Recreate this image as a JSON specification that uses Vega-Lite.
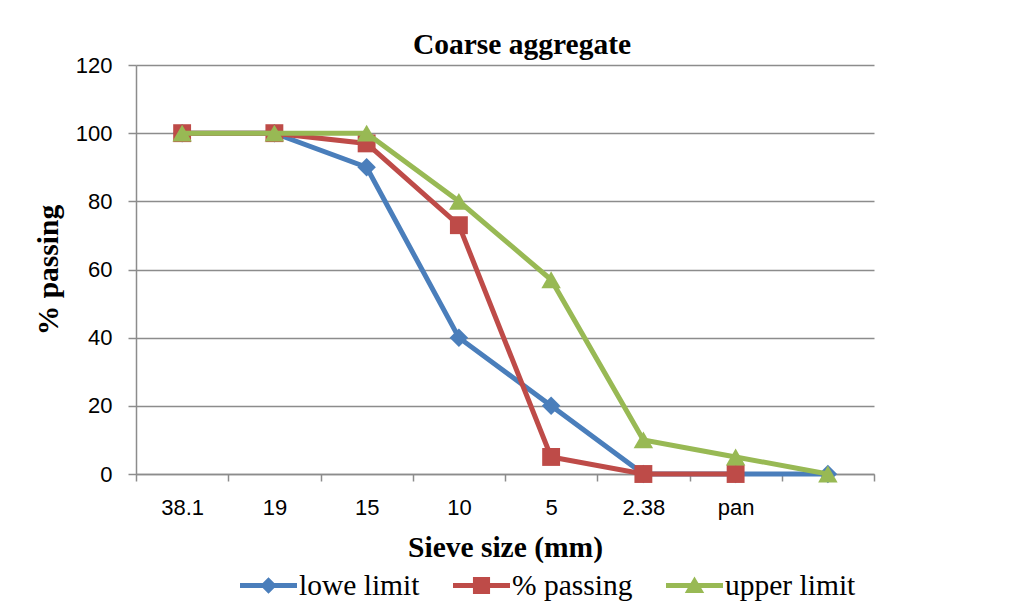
{
  "$schema": "https://vega.github.io/schema/vega-lite/v6.json",
  "width": 738,
  "height": 409,
  "autosize": "none",
  "padding": {"left": 136, "top": 65, "right": 149, "bottom": 135},
  "background": "white",
  "title": {
    "text": "Coarse aggregate",
    "font": "Liberation Serif",
    "fontWeight": "bold",
    "fontSize": 29.5,
    "color": "black",
    "anchor": "middle",
    "dx": 17,
    "offset": -6
  },
  "data": {
    "values": [
      {"sieve": "38.1", "series": "lowe limit", "pct": 100},
      {"sieve": "19", "series": "lowe limit", "pct": 100},
      {"sieve": "15", "series": "lowe limit", "pct": 90},
      {"sieve": "10", "series": "lowe limit", "pct": 40},
      {"sieve": "5", "series": "lowe limit", "pct": 20},
      {"sieve": "2.38", "series": "lowe limit", "pct": 0},
      {"sieve": "pan", "series": "lowe limit", "pct": 0},
      {"sieve": " ", "series": "lowe limit", "pct": 0},
      {"sieve": "38.1", "series": "% passing", "pct": 100},
      {"sieve": "19", "series": "% passing", "pct": 100},
      {"sieve": "15", "series": "% passing", "pct": 97},
      {"sieve": "10", "series": "% passing", "pct": 73},
      {"sieve": "5", "series": "% passing", "pct": 5},
      {"sieve": "2.38", "series": "% passing", "pct": 0},
      {"sieve": "pan", "series": "% passing", "pct": 0},
      {"sieve": "38.1", "series": "upper limit", "pct": 100},
      {"sieve": "19", "series": "upper limit", "pct": 100},
      {"sieve": "15", "series": "upper limit", "pct": 100},
      {"sieve": "10", "series": "upper limit", "pct": 80},
      {"sieve": "5", "series": "upper limit", "pct": 57},
      {"sieve": "2.38", "series": "upper limit", "pct": 10},
      {"sieve": "pan", "series": "upper limit", "pct": 5},
      {"sieve": " ", "series": "upper limit", "pct": 0}
    ]
  },
  "encoding": {
    "x": {
      "field": "sieve",
      "type": "ordinal",
      "bandPosition": 0.5,
      "scale": {
        "type": "band",
        "domain": ["38.1", "19", "15", "10", "5", "2.38", "pan", " "],
        "paddingInner": 0,
        "paddingOuter": 0
      },
      "axis": {
        "title": "Sieve size (mm)",
        "titleFont": "Liberation Serif",
        "titleFontWeight": "bold",
        "titleFontSize": 29.5,
        "titleColor": "black",
        "titlePadding": 15,
        "labelAngle": 0,
        "labelFont": "Liberation Sans",
        "labelFontSize": 22,
        "labelColor": "black",
        "labelPadding": 16,
        "tickBand": "extent",
        "tickSize": 7,
        "tickColor": "#8c8c8c",
        "tickWidth": 1.5,
        "domainColor": "#8c8c8c",
        "domainWidth": 1.5,
        "grid": false
      }
    },
    "y": {
      "field": "pct",
      "type": "quantitative",
      "scale": {"domain": [0, 120], "nice": false},
      "axis": {
        "title": "% passing",
        "titleFont": "Liberation Serif",
        "titleFontWeight": "bold",
        "titleFontSize": 29.5,
        "titleColor": "black",
        "titlePadding": 12,
        "values": [0, 20, 40, 60, 80, 100, 120],
        "labelFont": "Liberation Sans",
        "labelFontSize": 22,
        "labelColor": "black",
        "labelPadding": 16,
        "tickSize": 8,
        "tickColor": "#8c8c8c",
        "tickWidth": 1.5,
        "domainColor": "#8c8c8c",
        "domainWidth": 1.5,
        "grid": true,
        "gridColor": "#8c8c8c",
        "gridWidth": 1.5
      }
    }
  },
  "layer": [
    {
      "transform": [{"filter": {"field": "series", "equal": "lowe limit"}}],
      "mark": {
        "type": "line",
        "color": "#4a7ebb",
        "strokeWidth": 5,
        "point": {"shape": "diamond", "size": 340, "filled": true, "color": "#4a7ebb", "opacity": 1}
      }
    },
    {
      "transform": [{"filter": {"field": "series", "equal": "% passing"}}],
      "mark": {
        "type": "line",
        "color": "#be4b48",
        "strokeWidth": 5,
        "point": {"shape": "square", "size": 320, "filled": true, "color": "#be4b48", "opacity": 1}
      }
    },
    {
      "transform": [{"filter": {"field": "series", "equal": "upper limit"}}],
      "mark": {
        "type": "line",
        "color": "#98b954",
        "strokeWidth": 5,
        "point": {"shape": "triangle-up", "size": 380, "filled": true, "color": "#98b954", "opacity": 1}
      }
    },
    {
      "transform": [{"filter": {"field": "pct", "lt": -1}}],
      "mark": {"type": "point", "filled": true, "size": 3249},
      "encoding": {
        "color": {
          "field": "series",
          "type": "nominal",
          "scale": {
            "domain": ["lowe limit", "% passing", "upper limit"],
            "range": ["#4a7ebb", "#be4b48", "#98b954"]
          },
          "legend": {
            "title": null,
            "orient": "none",
            "legendX": 104,
            "legendY": 492,
            "direction": "horizontal",
            "labelFont": "Liberation Serif",
            "labelFontSize": 29.5,
            "labelColor": "black",
            "labelOffset": 2,
            "labelLimit": 300,
            "columnPadding": 33,
            "symbolSize": 3249,
            "symbolStrokeWidth": 0,
            "symbolOpacity": 1
          }
        },
        "shape": {
          "field": "series",
          "type": "nominal",
          "scale": {
            "domain": ["lowe limit", "% passing", "upper limit"],
            "range": [
              "M-1,-0.088L1,-0.088L1,0.088L-1,0.088Z M0,-0.29L0.29,0L0,0.29L-0.29,0Z",
              "M-1,-0.088L1,-0.088L1,0.088L-1,0.088Z M-0.3,-0.3L0.3,-0.3L0.3,0.3L-0.3,0.3Z",
              "M-1,-0.088L1,-0.088L1,0.088L-1,0.088Z M0,-0.32L0.34,0.26L-0.34,0.26Z"
            ]
          },
          "legend": {
            "title": null,
            "orient": "none",
            "legendX": 104,
            "legendY": 492,
            "direction": "horizontal",
            "labelFont": "Liberation Serif",
            "labelFontSize": 29.5,
            "labelColor": "black",
            "labelOffset": 2,
            "labelLimit": 300,
            "columnPadding": 33,
            "symbolSize": 3249,
            "symbolStrokeWidth": 0,
            "symbolOpacity": 1
          }
        }
      }
    }
  ],
  "config": {
    "view": {"stroke": null}
  }
}
